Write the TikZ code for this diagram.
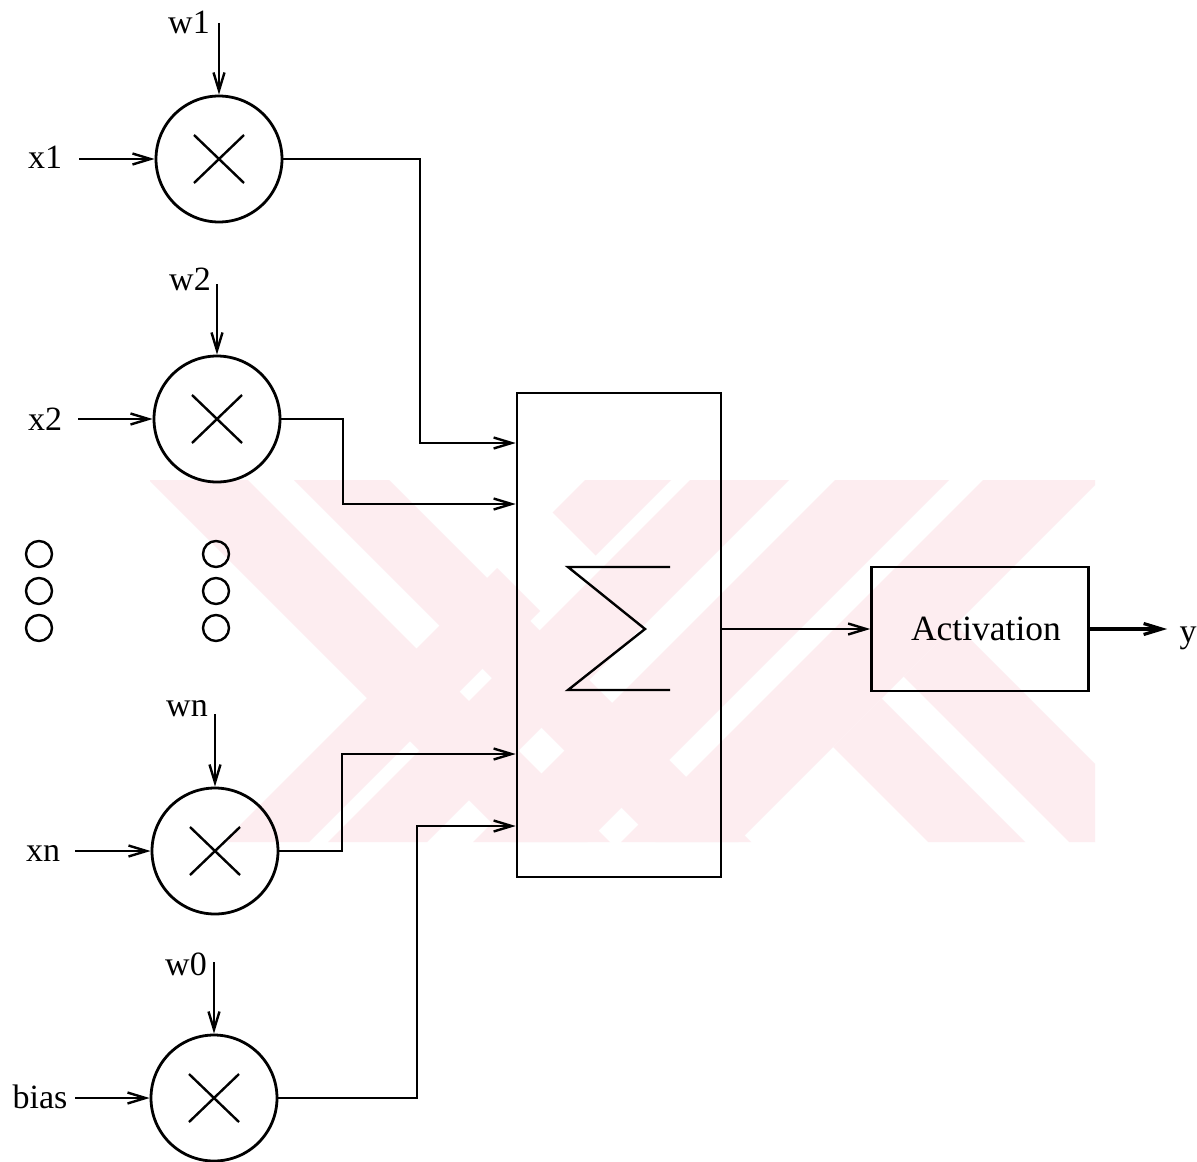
\documentclass[tikz,border=0pt]{standalone}
\usepackage{fontspec}
\setmainfont{Liberation Serif}
\usetikzlibrary{arrows.meta}
\definecolor{wm}{RGB}{253,237,240}
\begin{document}
\begin{tikzpicture}[x=0.5pt,y=-0.5pt,
  lbl/.style={font=\fontsize{17}{19}\selectfont, inner sep=0pt, anchor=base},
  mult/.style={circle, draw, line width=1.4pt, minimum size=63pt, inner sep=0pt,
    path picture={\draw[line width=1.2pt]
      ([shift={(-12.5pt,-12pt)}]path picture bounding box.center) -- ++(25pt,24pt)
      ([shift={(-12.5pt,12pt)}]path picture bounding box.center) -- ++(25pt,-24pt);}},
  arr/.style={-{Straight Barb[length=9pt,width=5.5pt]}, line width=1.2pt},
  dotc/.style={circle, draw, line width=1.2pt, minimum size=13pt, inner sep=0pt},
  blk/.style={draw, line width=1.3pt, inner sep=0pt}
]
\useasboundingbox (0,0) rectangle (1197,1161);
\fill[white] (0,0) rectangle (1197,1161);
% watermark
\begin{scope}
\clip (150,480) rectangle (1095,842);
\fill[wm] (149,480) -- (248,480) -- (610,842) -- (511,842) -- cycle;
\fill[wm] (294,480) -- (389,480) -- (751,842) -- (656,842) -- cycle;
\fill[wm] (585,480) -- (671,480) -- (595.5,555.5) -- (552.5,512.5) -- cycle;
\fill[wm] (497,568) -- (540,611) -- (309,842) -- (223,842) -- cycle;
\fill[wm] (690,480) -- (789,480) -- (427,842) -- (328,842) -- cycle;
\fill[wm] (835,480) -- (949,480) -- (587,842) -- (473,842) -- cycle;
\fill[wm] (983,480) -- (1100,480) -- (738,842) -- (621,842) -- cycle;
\fill[wm] (833,747) -- (881.5,698.5) -- (1025,842) -- (928,842) -- cycle;
\fill[wm] (903.5,676.5) -- (955.5,624.5) -- (1173,842) -- (1069,842) -- cycle;
\end{scope}

% multipliers
\node[mult] (M1) at (219,159) {};
\node[mult] (M2) at (217,419) {};
\node[mult] (Mn) at (215,851) {};
\node[mult] (M0) at (214,1098) {};

% labels
\node[lbl] (w1) at (189,34) {w1};
\node[lbl] (x1) at (45,168) {x1};
\node[lbl] (w2) at (190,290) {w2};
\node[lbl] (x2) at (45,430) {x2};
\node[lbl] (wn) at (187,716) {wn};
\node[lbl] (xn) at (43,861) {xn};
\node[lbl] (w0) at (186,975) {w0};
\node[lbl] (bias) at (40,1108) {bias};

% arrow starts
\coordinate (w1s) at (219,23);
\coordinate (w2s) at (217,284);
\coordinate (wns) at (215,714);
\coordinate (w0s) at (214,962);
\coordinate (x1s) at (79,159);
\coordinate (x2s) at (78,419);
\coordinate (xns) at (75,851);
\coordinate (biass) at (75,1098);

\draw[arr] (w1s) -- (M1.north);
\draw[arr] (w2s) -- (M2.north);
\draw[arr] (wns) -- (Mn.north);
\draw[arr] (w0s) -- (M0.north);
\draw[arr] (x1s) -- (M1.west);
\draw[arr] (x2s) -- (M2.west);
\draw[arr] (xns) -- (Mn.west);
\draw[arr] (biass) -- (M0.west);

% dots
\node[dotc] (d1) at (39,554) {};
\node[dotc] (d2) at (39,591) {};
\node[dotc] (d3) at (39,628) {};
\node[dotc] (d4) at (216,554) {};
\node[dotc] (d5) at (216,591) {};
\node[dotc] (d6) at (216,628) {};

% summation block
\node[blk, minimum width=102pt, minimum height=242pt] (S) at (619,635) {};
\draw[line width=1.2pt, line join=miter] (670,567) -- (568,567) -- (645,629) -- (568,690) -- (670,690);

% activation
\node[blk, minimum width=108.5pt, minimum height=62pt,
      font=\fontsize{17.75}{19}\selectfont] (A) at (980,629) {\hspace*{6pt}Activation};
\node[lbl] (yl) at (1188,642) {y};

% connectors to sum
\draw[arr] (M1.east) -| (420,443) -- (S.west |- 420,443);
\draw[arr] (M2.east) -| (343,504) -- (S.west |- 343,504);
\draw[arr] (Mn.east) -| (342,754) -- (S.west |- 342,754);
\draw[arr] (M0.east) -| (417,826) -- (S.west |- 417,826);

\draw[arr] (S.east |- A.west) -- (A.west);
\draw[arr, line width=1.6pt, shorten >=6pt] (A.east) -- (A.east -| yl.west);
\end{tikzpicture}
\end{document}
